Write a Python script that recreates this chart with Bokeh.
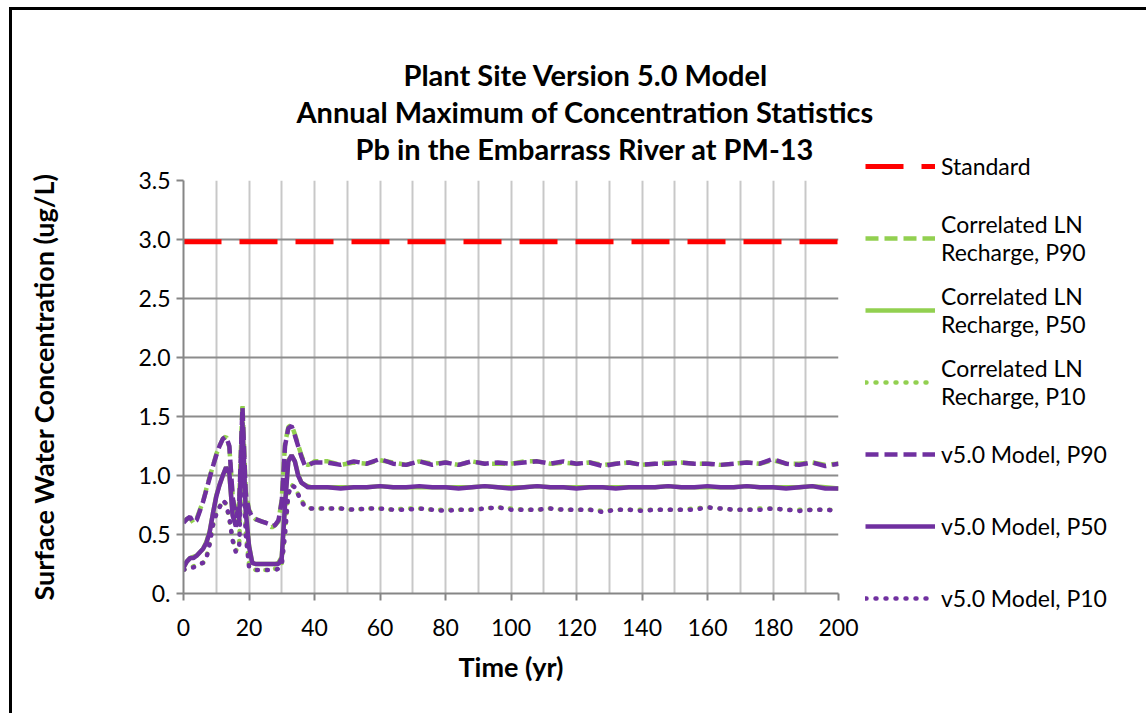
from bokeh.plotting import figure
from bokeh.models import Legend, LegendItem, Title, FixedTicker, Range1d
from bokeh.embed import file_html
from bokeh.resources import INLINE

# ---------------- data ----------------
years = list(range(0, 41)) + list(range(44, 201, 4))

standard = [2.98] * len(years)

v5_p90 = [0.60, 0.63, 0.65, 0.60, 0.62, 0.70, 0.78, 0.88, 0.98, 1.08, 1.17, 1.25, 1.31, 1.33, 1.25, 0.82, 0.64, 0.75, 1.58, 0.85,
          0.70, 0.65, 0.63, 0.62, 0.61, 0.60, 0.59, 0.57, 0.58, 0.62, 0.78, 1.25, 1.40, 1.42, 1.34, 1.25, 1.16, 1.09, 1.08, 1.10, 1.11,
          1.11, 1.09, 1.12, 1.10, 1.14, 1.10, 1.09, 1.12, 1.09, 1.11, 1.09, 1.12, 1.10, 1.11, 1.10, 1.11, 1.12, 1.10, 1.12, 1.10,
          1.11, 1.08, 1.10, 1.11, 1.09, 1.10, 1.10, 1.11, 1.10, 1.10, 1.09, 1.10, 1.11, 1.10, 1.14, 1.10, 1.09, 1.11, 1.08, 1.10]
v5_p50 = [0.22, 0.27, 0.30, 0.30, 0.32, 0.35, 0.38, 0.43, 0.52, 0.68, 0.82, 0.92, 1.00, 1.07, 1.02, 0.66, 0.57, 0.62, 1.45, 0.70,
          0.40, 0.26, 0.25, 0.25, 0.25, 0.25, 0.25, 0.25, 0.25, 0.25, 0.30, 0.75, 1.12, 1.17, 1.12, 1.00, 0.94, 0.92, 0.90, 0.90, 0.90,
          0.90, 0.89, 0.90, 0.90, 0.91, 0.90, 0.90, 0.91, 0.90, 0.90, 0.89, 0.90, 0.91, 0.90, 0.89, 0.90, 0.91, 0.90, 0.90, 0.89,
          0.90, 0.90, 0.89, 0.90, 0.90, 0.90, 0.91, 0.90, 0.90, 0.91, 0.90, 0.90, 0.91, 0.90, 0.90, 0.89, 0.90, 0.91, 0.89, 0.89]
v5_p10 = [0.20, 0.21, 0.22, 0.22, 0.24, 0.25, 0.26, 0.30, 0.42, 0.58, 0.67, 0.73, 0.79, 0.76, 0.64, 0.45, 0.35, 0.40, 1.30, 0.50,
          0.23, 0.21, 0.20, 0.20, 0.20, 0.20, 0.20, 0.20, 0.20, 0.21, 0.24, 0.50, 0.84, 0.92, 0.90, 0.84, 0.78, 0.74, 0.73, 0.72, 0.72,
          0.72, 0.72, 0.71, 0.72, 0.72, 0.71, 0.71, 0.72, 0.71, 0.70, 0.71, 0.71, 0.72, 0.73, 0.71, 0.71, 0.71, 0.72, 0.71, 0.71,
          0.71, 0.69, 0.71, 0.71, 0.70, 0.71, 0.71, 0.71, 0.71, 0.73, 0.72, 0.71, 0.71, 0.71, 0.72, 0.71, 0.70, 0.71, 0.71, 0.70]

corr_p90 = [0.61, 0.63, 0.64, 0.60, 0.63, 0.71, 0.78, 0.89, 0.99, 1.08, 1.18, 1.25, 1.31, 1.33, 1.24, 0.83, 0.65, 0.77, 1.61, 0.87,
            0.71, 0.66, 0.63, 0.62, 0.61, 0.60, 0.58, 0.56, 0.58, 0.61, 0.80, 1.27, 1.41, 1.43, 1.35, 1.26, 1.17, 1.10, 1.09, 1.10, 1.12,
            1.12, 1.09, 1.11, 1.10, 1.13, 1.11, 1.09, 1.12, 1.10, 1.11, 1.09, 1.12, 1.10, 1.10, 1.10, 1.12, 1.12, 1.10, 1.11, 1.10,
            1.11, 1.09, 1.10, 1.11, 1.09, 1.10, 1.11, 1.11, 1.10, 1.10, 1.09, 1.10, 1.11, 1.10, 1.13, 1.10, 1.10, 1.11, 1.09, 1.10]
corr_p50 = [0.22, 0.27, 0.30, 0.31, 0.32, 0.35, 0.38, 0.44, 0.53, 0.68, 0.83, 0.92, 1.00, 1.07, 1.01, 0.67, 0.58, 0.63, 1.47, 0.72,
            0.41, 0.26, 0.25, 0.25, 0.25, 0.25, 0.25, 0.25, 0.25, 0.26, 0.31, 0.77, 1.13, 1.17, 1.12, 1.01, 0.94, 0.92, 0.91, 0.90, 0.90,
            0.90, 0.90, 0.90, 0.90, 0.91, 0.90, 0.90, 0.90, 0.90, 0.90, 0.90, 0.90, 0.91, 0.90, 0.90, 0.90, 0.91, 0.90, 0.90, 0.90,
            0.90, 0.90, 0.90, 0.90, 0.90, 0.90, 0.91, 0.90, 0.90, 0.90, 0.90, 0.90, 0.91, 0.90, 0.90, 0.90, 0.90, 0.91, 0.90, 0.89]
corr_p10 = [0.20, 0.21, 0.22, 0.23, 0.24, 0.25, 0.26, 0.31, 0.43, 0.58, 0.68, 0.73, 0.79, 0.76, 0.63, 0.46, 0.36, 0.41, 1.32, 0.52,
            0.24, 0.21, 0.20, 0.20, 0.20, 0.20, 0.20, 0.20, 0.21, 0.21, 0.25, 0.52, 0.85, 0.92, 0.90, 0.84, 0.79, 0.75, 0.73, 0.72, 0.72,
            0.72, 0.72, 0.71, 0.72, 0.72, 0.71, 0.72, 0.72, 0.71, 0.71, 0.71, 0.71, 0.72, 0.73, 0.72, 0.71, 0.71, 0.72, 0.71, 0.71,
            0.71, 0.70, 0.71, 0.71, 0.71, 0.71, 0.71, 0.71, 0.72, 0.73, 0.72, 0.71, 0.71, 0.72, 0.72, 0.71, 0.71, 0.71, 0.71, 0.71]

x_ticks = [0, 20, 40, 60, 80, 100, 120, 140, 160, 180, 200]
x_minor = [10, 30, 50, 70, 90, 110, 130, 150, 170, 190]
y_ticks = [0.0, 0.5, 1.0, 1.5, 2.0, 2.5, 3.0, 3.5]
y_tick_labels = ["0.", "0.5", "1.0", "1.5", "2.0", "2.5", "3.0", "3.5"]

title_lines = ["Plant Site Version 5.0 Model",
               "Annual Maximum of Concentration Statistics",
               "Pb in the Embarrass River at PM-13"]

FONT = "Lato"
PURPLE = "#7030a0"
GREEN = "#92d050"
RED = "#ff0000"

p = figure(width=1134, height=703, output_backend="svg", toolbar_location=None,
           x_range=Range1d(0, 200), y_range=Range1d(0, 3.5),
           frame_width=655, frame_height=413,
           min_border_left=171, min_border_top=170, min_border_right=10, min_border_bottom=120)
p.title = None
p.styles = {"border-left": "3px solid black", "border-top": "3px solid black",
            "margin-left": "9px", "margin-top": "7px"}
p.outline_line_color = None
p.background_fill_color = "white"
p.border_fill_color = "white"

# blank spacer between frame and the title block
p.add_layout(Title(text=" ", standoff=0, text_font=FONT, text_font_size="11px"), "above")
# title lines: stacked above the frame, nearest first; left offsets centre them over the chart
title_offsets = [220, 113, 172]
for txt, off in reversed(list(zip(title_lines, title_offsets))):
    p.add_layout(Title(text=txt, align="left", offset=off, standoff=0, text_font=FONT,
                       text_font_size="29px", text_font_style="bold", text_color="black"), "above")

# axes
p.xaxis.ticker = FixedTicker(ticks=x_ticks, minor_ticks=x_minor)
p.yaxis.ticker = FixedTicker(ticks=y_ticks)
p.yaxis.major_label_overrides = {v: s for v, s in zip(y_ticks, y_tick_labels)}
for ax in (p.xaxis[0], p.yaxis[0]):
    ax.axis_line_color = "#868686"
    ax.axis_line_width = 2
    ax.major_tick_line_color = "#868686"
    ax.major_tick_line_width = 2
    ax.major_tick_out = 7
    ax.major_tick_in = 0
    ax.minor_tick_out = 0
    ax.minor_tick_in = 0
    ax.major_label_text_font = FONT
    ax.major_label_text_font_size = "23px"
    ax.major_label_text_color = "black"
    ax.axis_label_text_font = FONT
    ax.axis_label_text_font_size = "27px"
    ax.axis_label_text_font_style = "bold"
    ax.axis_label_text_color = "black"
p.xaxis.axis_label = "Time (yr)"
p.yaxis.axis_label = "Surface Water Concentration (ug/L)"
p.xaxis.major_label_standoff = 18
p.yaxis.major_label_standoff = 6
p.xaxis.axis_label_standoff = 11
p.yaxis.axis_label_standoff = 75

p.xgrid.grid_line_color = "#c8c8c8"
p.xgrid.grid_line_width = 2
p.xgrid.minor_grid_line_color = "#c8c8c8"
p.xgrid.minor_grid_line_width = 2
p.ygrid.grid_line_color = "#8c8c8c"
p.ygrid.grid_line_width = 2

# lines
r_std = p.line(years, standard, line_color=RED, line_width=5, line_dash="38 18")
r_c90 = p.line(years, corr_p90, line_color=GREEN, line_width=4.5, line_dash="13 6")
r_c50 = p.line(years, corr_p50, line_color=GREEN, line_width=4.5)
r_c10 = p.line(years, corr_p10, line_color=GREEN, line_width=4.5, line_dash="1 9", line_cap="round")
r_v90 = p.line(years, v5_p90, line_color=PURPLE, line_width=4.5, line_dash="13 6")
r_v50 = p.line(years, v5_p50, line_color=PURPLE, line_width=4.5)
r_v10 = p.line(years, v5_p10, line_color=PURPLE, line_width=4.5, line_dash="1 9", line_cap="round")

legend = Legend(items=[
    LegendItem(label="Standard", renderers=[r_std]),
    LegendItem(label="Correlated LN\nRecharge, P90", renderers=[r_c90]),
    LegendItem(label="Correlated LN\nRecharge, P50", renderers=[r_c50]),
    LegendItem(label="Correlated LN\nRecharge, P10", renderers=[r_c10]),
    LegendItem(label="v5.0 Model, P90", renderers=[r_v90]),
    LegendItem(label="v5.0 Model, P50", renderers=[r_v50]),
    LegendItem(label="v5.0 Model, P10", renderers=[r_v10]),
], location=(27, -35))
legend.border_line_color = None
legend.background_fill_alpha = 0
legend.margin = 0
legend.padding = 0
legend.spacing = 12
legend.glyph_width = 70
legend.glyph_height = 60
legend.label_height = 60
legend.label_standoff = 6
legend.label_text_font = FONT
legend.label_text_font_size = "23px"
legend.label_text_color = "black"
p.add_layout(legend, "right")

open("out.html", "w").write(file_html(p, INLINE))
